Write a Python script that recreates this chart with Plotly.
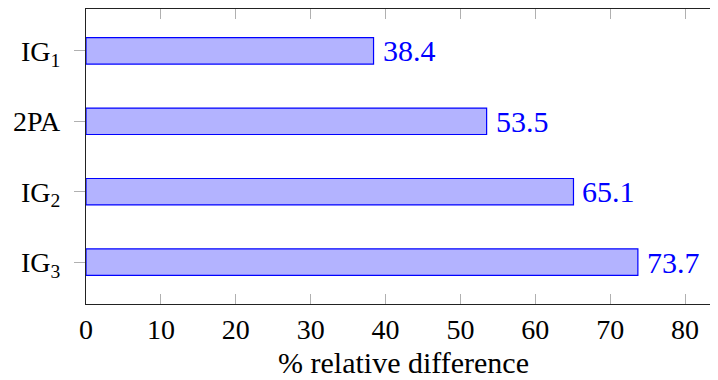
import plotly.graph_objects as go

categories = ["IG<sub>1</sub>", "2PA", "IG<sub>2</sub>", "IG<sub>3</sub>"]
values = [38.4, 53.5, 65.1, 73.7]
value_labels = ["38.4", "53.5", "65.1", "73.7"]
x_ticks = [0, 10, 20, 30, 40, 50, 60, 70, 80]

FONT = "Liberation Serif"
BLUE = "#0000ff"

fig = go.Figure()
fig.add_trace(go.Bar(
    x=values, y=categories, orientation="h",
    marker=dict(color="#b3b3ff", line=dict(color=BLUE, width=1.2)),
    width=0.375,
    hoverinfo="skip",
))

for v, c, t in zip(values, categories, value_labels):
    fig.add_annotation(x=v, y=c, text=t, showarrow=False, xanchor="left",
                       yanchor="middle", xshift=7,
                       font=dict(family=FONT, size=30, color=BLUE))

# page body has an 8px margin, so the figure is offset accordingly
fig.update_layout(
    width=713, height=372,
    margin=dict(l=78, r=0, t=1, b=76, autoexpand=False),
    plot_bgcolor="white", paper_bgcolor="white",
    showlegend=False,
    font=dict(family=FONT, size=28, color="black"),
    xaxis=dict(
        range=[0, 84.8], tickvals=x_ticks, ticktext=[str(t) for t in x_ticks],
        ticks="inside", ticklen=10, tickcolor="#b0b0b0", tickwidth=1,
        showline=True, linecolor="#222222", linewidth=1.2, mirror="ticks",
        showgrid=False, zeroline=False, automargin=False,
        title=dict(text="% relative difference", standoff=8,
                   font=dict(family=FONT, size=30)),
        tickfont=dict(family=FONT, size=28),
    ),
    yaxis=dict(
        range=[3.594, -0.594], type="category",
        ticks="outside", ticklen=11, tickcolor="#b0b0b0", tickwidth=1,
        showline=True, linecolor="#222222", linewidth=1.2, mirror=False,
        showgrid=False, zeroline=False, automargin=False,
        tickfont=dict(family=FONT, size=28),
        ticklabelstandoff=8,
    ),
)

fig.write_html("out.html")
